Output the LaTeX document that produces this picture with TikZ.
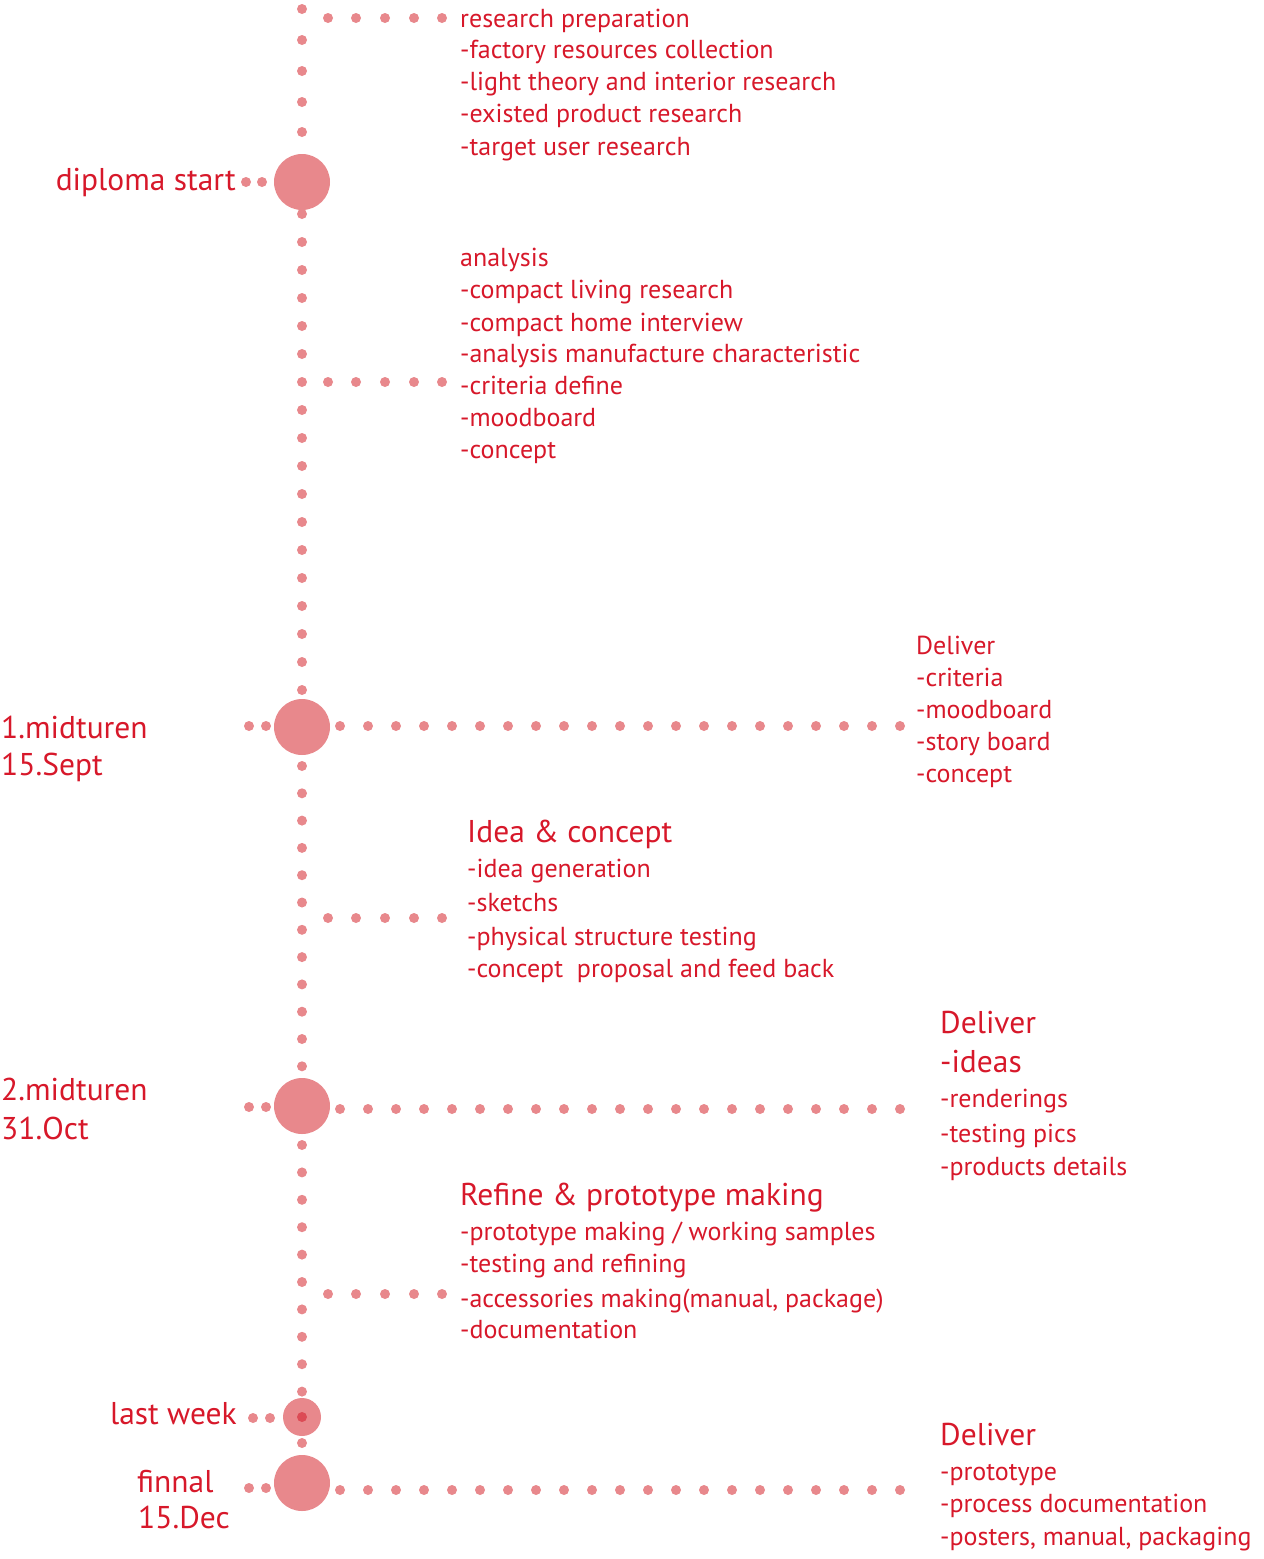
\documentclass[tikz,border=0pt]{standalone}
\usepackage{fontspec}
\setmainfont{PT Sans}
\definecolor{txt}{HTML}{D7182A}
\definecolor{dotc}{HTML}{E8888C}
\definecolor{innerc}{HTML}{DC4B55}
\begin{document}
\begin{tikzpicture}[x=1pt,y=-1pt,
  ms/.style={circle,fill=dotc,minimum size=56pt,inner sep=0pt},
  lw/.style={circle,fill=dotc,minimum size=38pt,inner sep=0pt},
  lbl/.style={inner sep=0pt,text=txt,font=\fontsize{26}{30}\selectfont},
  big/.style={lbl,font=\fontsize{31.5}{36}\selectfont},
  tx/.style={lbl,anchor=base west},
  btx/.style={big,anchor=base west},
]
\useasboundingbox (0,0) rectangle (1264,1559);

% milestones
\node[ms] (start) at (302,182) {};
\node[ms] (mid1) at (302,727) {};
\node[ms] (mid2) at (302,1106) {};
\node[lw] (last) at (302,1417) {};
\fill[innerc] (last.center) circle (5pt);
\node[ms] (fin) at (302,1483) {};

% vertical dotted timeline
\foreach \y in {9,40,71,102,132} \fill[dotc] (302,\y) circle (5pt);
\foreach \i in {0,...,17} \fill[dotc] (302,214+28*\i) circle (5pt);
\foreach \i in {0,...,11} \fill[dotc] (302,766+27.3*\i) circle (5pt);
\foreach \i in {0,...,9} \fill[dotc] (302,1145+27.4*\i) circle (5pt);
\fill[dotc] (302,1443) circle (5pt);

% short branches to phase texts
\foreach \x in {328,356,385,414,442} {
  \fill[dotc] (\x,18) circle (5pt);
  \fill[dotc] (\x,382) circle (5pt);
  \fill[dotc] (\x,918) circle (5pt);
  \fill[dotc] (\x,1294) circle (5pt);
}
% long branches to deliverables
\foreach \i in {0,...,20} {
  \fill[dotc] (340+28*\i,726) circle (5pt);
  \fill[dotc] (340+28*\i,1109) circle (5pt);
  \fill[dotc] (340+28*\i,1490) circle (5pt);
}
% left stubs
\foreach \x in {246,262} \fill[dotc] (\x,182) circle (5pt);
\foreach \x in {249,266} {
  \fill[dotc] (\x,726) circle (5pt);
  \fill[dotc] (\x,1107) circle (5pt);
  \fill[dotc] (\x,1488) circle (5pt);
}
\foreach \x in {253,270} \fill[dotc] (\x,1418) circle (5pt);

% left labels
\node[big,anchor=base east] (lstart) at (236,190) {diploma start};
\node[btx] (lm1a) at (1,738) {1.midturen};
\node[btx] (lm1b) at (1,775) {15.Sept};
\node[btx] (lm2a) at (1,1100) {2.midturen};
\node[btx] (lm2b) at (1,1139) {31.Oct};
\node[big,anchor=base east] (llast) at (237,1424) {last week};
\node[btx] (lfa) at (137,1492) {finnal};
\node[btx] (lfb) at (138,1528) {15.Dec};

% block A
\node[tx] (a1) at (460,27) {research preparation};
\node[tx] (a2) at (460,58) {-factory resources collection};
\node[tx] (a3) at (460,90) {-light theory and interior research};
\node[tx] (a4) at (460,122) {-existed product research};
\node[tx] (a5) at (460,155) {-target user research};

% block B
\node[tx] (b1) at (460,266) {analysis};
\node[tx] (b2) at (460,298) {-compact living research};
\node[tx] (b3) at (460,331) {-compact home interview};
\node[tx] (b4) at (460,362) {-analysis manufacture characteristic};
\node[tx] (b5) at (460,394) {-criteria define};
\node[tx] (b6) at (460,426) {-moodboard};
\node[tx] (b7) at (460,458) {-concept};

% block C
\node[tx] (c1) at (916,654) {Deliver};
\node[tx] (c2) at (916,686) {-criteria};
\node[tx] (c3) at (916,718) {-moodboard};
\node[tx] (c4) at (916,750) {-story board};
\node[tx] (c5) at (916,782) {-concept};

% block D
\node[btx] (d1) at (467,842) {Idea \& concept};
\node[tx] (d2) at (467,877) {-idea generation};
\node[tx] (d3) at (467,911) {-sketchs};
\node[tx] (d4) at (467,945) {-physical structure testing};
\node[tx] (d5) at (467,977) {-concept~ proposal and feed back};

% block E
\node[btx] (e1) at (940,1033) {Deliver};
\node[btx] (e2) at (940,1072) {-ideas};
\node[tx] (e3) at (940,1107) {-renderings};
\node[tx] (e4) at (940,1142) {-testing pics};
\node[tx] (e5) at (940,1175) {-products details};

% block F
\node[btx] (f1) at (460,1205) {Refine \& prototype making};
\node[tx] (f2) at (460,1240) {-prototype making / working samples};
\node[tx] (f3) at (460,1272) {-testing and refining};
\node[tx] (f4) at (460,1307) {-accessories making(manual, package)};
\node[tx] (f5) at (460,1338) {-documentation};

% block G
\node[btx] (g1) at (940,1445) {Deliver};
\node[tx] (g2) at (940,1480) {-prototype};
\node[tx] (g3) at (940,1512) {-process documentation};
\node[tx] (g4) at (940,1545) {-posters, manual, packaging};
\end{tikzpicture}
\end{document}
